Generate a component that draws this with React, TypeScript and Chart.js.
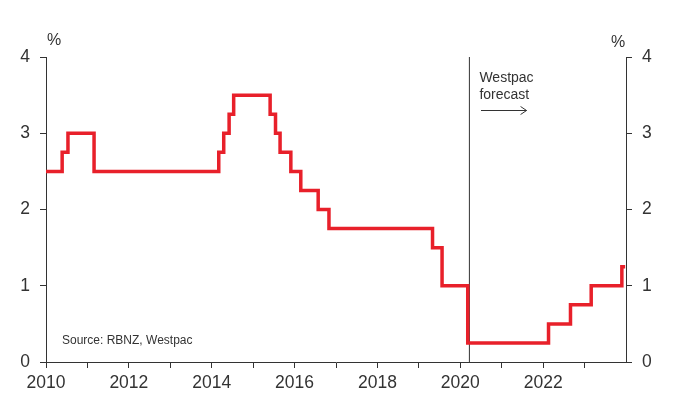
import { useEffect, useRef } from 'react';
import Chart from 'chart.js/auto';

// OCR step dates (decimal years) and the new rate from that date
const dates = [2010.0, 2010.39, 2010.53, 2011.16, 2014.17, 2014.29, 2014.42, 2014.53, 2015.41, 2015.54, 2015.65, 2015.91, 2016.15, 2016.57, 2016.83, 2019.33, 2019.56, 2020.18, 2022.13, 2022.66, 2023.16, 2023.9, 2023.98];
const rates = [2.5, 2.75, 3.0, 2.5, 2.75, 3.0, 3.25, 3.5, 3.25, 3.0, 2.75, 2.5, 2.25, 2.0, 1.75, 1.5, 1.0, 0.25, 0.5, 0.75, 1.0, 1.25, 1.25];
const forecastStart = 2020.22;
const arrowFrom = 2020.5;
const arrowTo = 2021.6;
const arrowY = 3.3;
const xMin = 2010;
const xMax = 2024;
const yMin = 0;
const yMax = 4;

const FONT = "'Liberation Sans', Arial, sans-serif";
const TXT = '#333333';

export default function App() {
  const ref = useRef<HTMLCanvasElement>(null);
  useEffect(() => {
    document.body.style.margin = '0';
    const canvas = ref.current!;
    const annot = {
      id: 'annot',
      afterDraw(chart: any) {
        const c = chart.ctx;
        const x = chart.scales.x;
        const y = chart.scales.y;
        c.save();
        c.fillStyle = TXT;
        c.textBaseline = 'middle';
        c.font = `16px ${FONT}`;
        c.textAlign = 'center';
        c.fillText('%', 54, 41);
        c.fillText('%', 618, 43);
        c.textAlign = 'left';
        c.font = `14px ${FONT}`;
        const fx = x.getPixelForValue(forecastStart) + 10;
        c.fillText('Westpac', fx, 78);
        c.fillText('forecast', fx, 95);
        c.font = `12px ${FONT}`;
        c.fillText('Source: RBNZ, Westpac', 62, 341);
        // arrow
        const ax0 = x.getPixelForValue(arrowFrom);
        const ax1 = x.getPixelForValue(arrowTo);
        const ay = Math.round(y.getPixelForValue(arrowY)) + 0.5;
        c.strokeStyle = TXT;
        c.lineWidth = 1;
        c.beginPath();
        c.moveTo(ax0, ay);
        c.lineTo(ax1, ay);
        c.moveTo(ax1 - 6, ay - 4);
        c.lineTo(ax1, ay);
        c.lineTo(ax1 - 6, ay + 4);
        c.stroke();
        c.restore();
      },
    };
    const tickFont = { size: 17.5, family: FONT };
    const chart = new Chart(canvas, {
      type: 'line',
      data: {
        datasets: [
          {
            data: dates.map((d, i) => ({ x: d, y: rates[i] })),
            borderColor: '#E8202A',
            borderWidth: 3.5,
            stepped: true,
            pointRadius: 0,
            fill: false,
            yAxisID: 'y',
          },
          {
            data: [
              { x: forecastStart, y: yMin },
              { x: forecastStart, y: yMax },
            ],
            borderColor: TXT,
            borderWidth: 1,
            pointRadius: 0,
            fill: false,
            yAxisID: 'y',
          },
        ],
      },
      options: {
        animation: false,
        responsive: false,
        maintainAspectRatio: false,
        layout: { padding: { top: 57, left: 0, right: 0, bottom: 0 } },
        plugins: { legend: { display: false }, tooltip: { enabled: false } },
        scales: {
          x: {
            type: 'linear',
            min: xMin,
            max: xMax,
            ticks: {
              stepSize: 1,
              autoSkip: false,
              maxRotation: 0,
              callback: (v: any) => (v % 2 === 0 && v < xMax ? String(v) : ''),
              font: tickFont,
              color: TXT,
              padding: 5,
            },
            grid: {
              drawOnChartArea: false,
              tickLength: 6,
              color: TXT,
              tickColor: (ctx: any) => (ctx.tick && ctx.tick.value === xMax ? 'rgba(0,0,0,0)' : TXT),
            },
            border: { color: TXT },
            afterFit(s: any) {
              s.height = 58;
            },
          },
          y: {
            position: 'left',
            min: yMin,
            max: yMax,
            ticks: { stepSize: 1, font: tickFont, color: TXT, padding: 10 },
            grid: { drawOnChartArea: false, tickLength: 6, color: TXT },
            border: { color: TXT },
            afterFit(s: any) {
              s.width = 46;
            },
          },
          y2: {
            position: 'right',
            min: yMin,
            max: yMax,
            ticks: { stepSize: 1, font: tickFont, color: TXT, padding: 10 },
            grid: { drawOnChartArea: false, tickLength: 6, color: TXT },
            border: { color: TXT },
            afterFit(s: any) {
              s.width = 58;
            },
          },
        },
      },
      plugins: [annot],
    });
    return () => chart.destroy();
  }, []);
  return <canvas ref={ref} width={684} height={420} style={{ display: 'block' }} />;
}
